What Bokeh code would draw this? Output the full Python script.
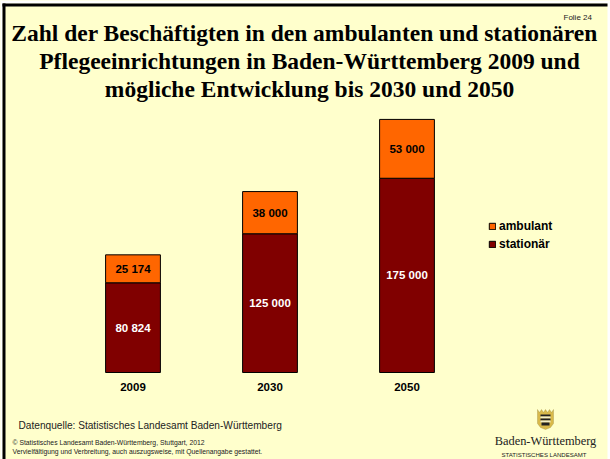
from bokeh.plotting import figure
from bokeh.embed import file_html
from bokeh.resources import INLINE
from bokeh.models import Label, BoxAnnotation, PolyAnnotation, Legend, LegendItem, ColumnDataSource, FixedTicker
from bokeh.core.properties import value

years = ["2009", "2030", "2050"]
stationaer = [80824, 125000, 175000]
ambulant = [25174, 38000, 53000]
stationaer_labels = ["80 824", "125 000", "175 000"]
ambulant_labels = ["25 174", "38 000", "53 000"]
title_lines = ["Zahl der Beschäftigten in den ambulanten und stationären",
               "Pflegeeinrichtungen in Baden-Württemberg 2009 und",
               "mögliche Entwicklung bis 2030 und 2050"]
YELLOW, ORANGE, DARK = "#FFFFCC", "#FF6600", "#800000"
W, H = 610, 459
X0, DX = 132.5, 137.0      # page x of the first bar, page px per category
Y0, PX = 372, 1.11 / 1000  # page y of the base line, page px per person

pos = list(range(len(years)))
src = ColumnDataSource(dict(
    x=pos, stationaer=stationaer, ambulant=ambulant,
    s_mid=[v / 2 for v in stationaer],
    a_mid=[s + a / 2 for s, a in zip(stationaer, ambulant)],
    s_lab=stationaer_labels, a_lab=ambulant_labels))

# the plot area fills the page, so that the page's texts and frame are not clipped
p = figure(width=W, height=H, x_range=(-X0 / DX, (W - X0) / DX),
           y_range=(-(H - Y0) / PX, Y0 / PX),
           output_backend="svg", toolbar_location=None, tools="",
           min_border_left=0, min_border_right=0, min_border_top=0, min_border_bottom=0,
           border_fill_color=YELLOW, background_fill_color=YELLOW, outline_line_color=None)
p.xgrid.visible = False
p.ygrid.visible = False
p.yaxis.visible = False
ax = p.xaxis[0]
ax.fixed_location = 0
ax.ticker = FixedTicker(ticks=pos)
ax.major_label_overrides = dict(zip(pos, years))
ax.axis_line_color = None
ax.major_tick_line_color = None
ax.minor_tick_line_color = None
ax.major_label_standoff = 4
ax.major_label_text_font = "Liberation Sans"
ax.major_label_text_font_style = "bold"
ax.major_label_text_font_size = "11.5px"
ax.major_label_text_color = "#000000"

bars = p.vbar_stack(["stationaer", "ambulant"], x="x", width=0.4, source=src,
                    fill_color=[DARK, ORANGE], line_color="#000000", line_width=1)

lab = dict(text_font=value("Liberation Sans"), text_font_style="bold", text_font_size="11.5px",
           text_align="center", text_baseline="middle")
p.text(x="x", y="s_mid", text="s_lab", source=src, text_color="#FFFFFF", **lab)
p.text(x="x", y="a_mid", text="a_lab", source=src, text_color="#000000", **lab)

legend = Legend(items=[LegendItem(label="ambulant", renderers=[bars[1]]),
                       LegendItem(label="stationär", renderers=[bars[0]])],
                location=(488, 208), background_fill_alpha=0, border_line_color=None,
                glyph_width=8, glyph_height=8, label_standoff=3, spacing=4, margin=0, padding=0,
                label_text_font="Liberation Sans", label_text_font_style="bold",
                label_text_font_size="12px", label_height=12, label_text_color="#000000")
p.add_layout(legend, "center")

def txt(x, y, s, size, font="Liberation Sans", style="normal", align="left", color="#000000"):
    p.add_layout(Label(x=x, y=H - y, x_units="screen", y_units="screen", text=s,
                       text_font=font, text_font_style=style, text_font_size=size,
                       text_align=align, text_baseline="middle", text_color=color))

def box(l, r, t, b, color):
    p.add_layout(BoxAnnotation(left=l, right=r, top=H - t, bottom=H - b,
                               left_units="screen", right_units="screen",
                               top_units="screen", bottom_units="screen",
                               fill_color=color, fill_alpha=1, line_color=None))

# page edge and dark frame
box(0, W, 0, 3, "#FFFFFF")
box(0, 2, 0, H, "#FFFFFF")
box(607, W, 0, H, "#FFFFFF")
box(2, 607, 3, 6, "#000000")
box(2, 5, 3, H, "#000000")

for s, x, y in zip(title_lines, (304, 309, 309), (32, 60, 88)):
    txt(x, y, s, "23.5px", font="Liberation Serif", style="bold", align="center")
txt(563, 17, "Folie 24", "8px", color="#222222")
txt(18, 425, "Datenquelle: Statistisches Landesamt Baden-Württemberg", "10.15px", color="#222222")
txt(12, 442, "© Statistisches Landesamt Baden-Württemberg, Stuttgart, 2012", "6.8px", color="#222222")
txt(12, 451, "Vervielfältigung und Verbreitung, auch auszugsweise, mit Quellenangabe gestattet.", "6.8px", color="#222222")
txt(545, 440, "Baden-Württemberg", "12.4px", font="Liberation Serif", align="center", color="#222222")
txt(543.5, 454, "STATISTISCHES LANDESAMT", "6.05px", align="center", color="#222222")

# crest
p.add_layout(PolyAnnotation(xs=[537, 539, 541, 543, 545, 547, 549, 551, 553, 553, 550, 545, 540, 537],
                            ys=[H - y for y in (409, 412, 409, 412, 409, 412, 409, 412, 409, 423, 427, 429, 427, 423)],
                            xs_units="screen", ys_units="screen",
                            fill_color="#D9B94A", fill_alpha=1, line_color="#8A7A30", line_width=1))
box(540, 550, 414, 416, "#222222")
box(540, 550, 416, 418, "#F4F0C8")
box(540, 550, 418, 420, "#222222")
box(540, 550, 420, 422, "#F4F0C8")
box(541, 549, 422, 425, "#222222")

html = file_html(p, INLINE)
html = html.replace("<head>", "<head><style>html,body{margin:0;padding:0;overflow:hidden;background:#fff}</style>", 1)
open("out.html", "w").write(html)
